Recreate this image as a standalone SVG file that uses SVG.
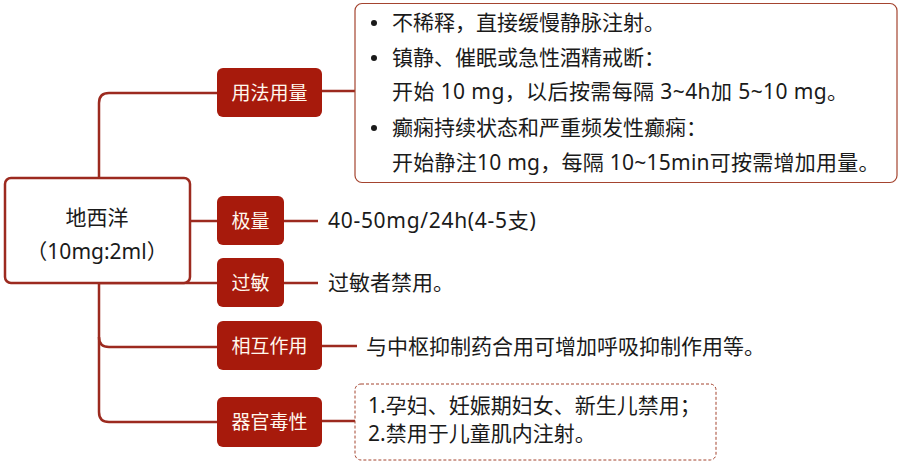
<svg xmlns="http://www.w3.org/2000/svg" width="904" height="465" viewBox="0 0 904 465">
<style>
text{font-family:"Noto Sans","Noto Sans CJK SC",sans-serif;}
.conn{fill:none;stroke:#9c2a1f;stroke-width:2.5;}
.br rect{fill:#a71a0c;}
.br text{fill:#fff8ee;font-size:19px;text-anchor:middle;font-family:"Noto Sans CJK SC",sans-serif;}
.t{fill:#1a1a1a;font-size:21px;}
.root rect{fill:#fff;stroke:#9c2a1f;stroke-width:2.5;}
</style>
<rect width="904" height="465" fill="#ffffff"/>
<g id="connectors">
<path class="conn" d="M217 93 H109 Q99 93 99 103 V412 Q99 422 109 422 H217"/>
<path class="conn" d="M99 337 Q99 347 109 347 H217"/>
<path class="conn" d="M99 283 H217"/>
<path class="conn" d="M190 221 H217"/>
<path class="conn" d="M322 91 H355"/>
<path class="conn" d="M284 221 H318"/>
<path class="conn" d="M284 283 H318"/>
<path class="conn" d="M322 346 H357"/>
<path class="conn" d="M322 421 H355"/>
</g>
<g id="root" class="root">
<rect x="5" y="178" width="185" height="105" rx="6"/>
<text class="t" x="97" y="225" text-anchor="middle">地西洋</text>
<text class="t" x="97" y="259" text-anchor="middle">（10mg:2ml）</text>
</g>
<g id="n-usage" class="br">
<rect x="217" y="68" width="105" height="49" rx="6"/>
<text x="269.5" y="99.5">用法用量</text>
</g>
<g id="n-max" class="br">
<rect x="217" y="196" width="67" height="49" rx="6"/>
<text x="250.5" y="227.5">极量</text>
</g>
<g id="n-allergy" class="br">
<rect x="217" y="258" width="67" height="49" rx="6"/>
<text x="250.5" y="289.5">过敏</text>
</g>
<g id="n-interact" class="br">
<rect x="217" y="321" width="105" height="49" rx="6"/>
<text x="269.5" y="352.5">相互作用</text>
</g>
<g id="n-organ" class="br">
<rect x="217" y="397" width="105" height="50" rx="6"/>
<text x="269.5" y="428.5">器官毒性</text>
</g>
<g id="d-usage">
<rect x="355" y="3.5" width="542" height="179" rx="7" fill="#fff" stroke="#a4442f" stroke-width="1.2"/>
<circle cx="374" cy="23" r="3" fill="#1a1a1a"/>
<circle cx="374" cy="58" r="3" fill="#1a1a1a"/>
<circle cx="374" cy="128" r="3" fill="#1a1a1a"/>
<text class="t" x="392" y="30">不稀释，直接缓慢静脉注射。</text>
<text class="t" x="392" y="65">镇静、催眠或急性酒精戒断：</text>
<text class="t" x="392" y="99" letter-spacing="0.4">开始 10 mg，以后按需每隔 3~4h加 5~10 mg。</text>
<text class="t" x="392" y="135">癫痫持续状态和严重频发性癫痫：</text>
<text class="t" x="392" y="170" letter-spacing="0.25">开始静注10 mg，每隔 10~15min可按需增加用量。</text>
</g>
<g id="d-max">
<text class="t" x="328" y="228" letter-spacing="0.7">40-50mg/24h(4-5支)</text>
</g>
<g id="d-allergy">
<text class="t" x="328" y="290">过敏者禁用。</text>
</g>
<g id="d-interact">
<text class="t" x="366" y="354">与中枢抑制药合用可增加呼吸抑制作用等。</text>
</g>
<g id="d-organ">
<rect x="355" y="384" width="361" height="76" rx="6" fill="#fff" stroke="#a4442f" stroke-width="1" stroke-dasharray="3 2"/>
<text class="t" x="368" y="413">1.孕妇、妊娠期妇女、新生儿禁用；</text>
<text class="t" x="368" y="441">2.禁用于儿童肌内注射。</text>
</g>
</svg>
